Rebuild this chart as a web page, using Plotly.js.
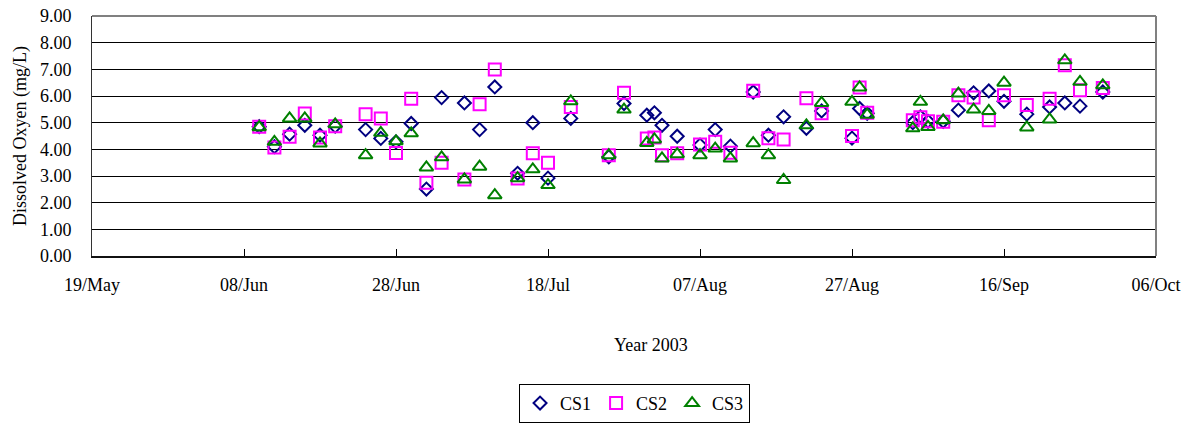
<!DOCTYPE html>
<html>
<head>
<meta charset="utf-8">
<script src="https://cdn.plot.ly/plotly-3.0.1.min.js"></script>
<style>html,body{margin:0;padding:0;background:#fff;}#chart{width:1195px;height:425px;}</style>
</head>
<body>
<div id="chart"></div>
<script>
const dates = ['2003-06-10','2003-06-12','2003-06-14','2003-06-16','2003-06-18','2003-06-20','2003-06-24','2003-06-26','2003-06-28','2003-06-30','2003-07-02','2003-07-04','2003-07-07','2003-07-09','2003-07-11','2003-07-14','2003-07-16','2003-07-18','2003-07-21','2003-07-26','2003-07-28','2003-07-31','2003-08-01','2003-08-02','2003-08-04','2003-08-07','2003-08-09','2003-08-11','2003-08-14','2003-08-16','2003-08-18','2003-08-21','2003-08-23','2003-08-27','2003-08-28','2003-08-29','2003-09-04','2003-09-05','2003-09-06','2003-09-08','2003-09-10','2003-09-12','2003-09-14','2003-09-16','2003-09-19','2003-09-22','2003-09-24','2003-09-26','2003-09-29'];
const cs1 = [4.85,4.1,4.57,4.9,4.53,4.87,4.74,4.41,4.28,4.97,2.51,5.94,5.74,4.74,6.34,3.1,5.0,2.92,5.16,3.72,5.72,5.28,5.37,4.9,4.49,4.16,4.74,4.12,6.15,4.53,5.22,4.79,5.44,4.42,5.53,5.35,5.0,5.22,5.05,5.05,5.47,6.12,6.19,5.8,5.32,5.59,5.74,5.62,6.15];
const cs2 = [4.85,4.07,4.47,5.34,4.44,4.87,5.32,5.16,3.86,5.9,2.75,3.5,2.87,5.69,6.99,2.91,3.85,3.5,5.59,3.78,6.12,4.41,4.44,3.78,3.85,4.18,4.28,3.87,6.2,4.42,4.37,5.92,5.35,4.5,6.32,5.37,5.09,5.2,5.05,5.03,6.03,5.94,5.09,6.03,5.66,5.9,7.15,6.22,6.3];
const cs3 = [4.83,4.28,5.16,5.16,4.22,4.94,3.78,4.62,4.3,4.6,3.32,3.7,2.87,3.35,2.28,2.92,3.25,2.66,5.8,3.78,5.49,4.24,4.37,3.66,3.82,3.78,4.03,3.66,4.23,3.78,2.85,4.9,5.74,5.78,6.32,5.3,4.79,5.78,4.84,5.09,6.09,5.49,5.44,6.5,4.82,5.12,7.34,6.53,6.4];
const seriesNames = ['CS1','CS2','CS3'];
const xTickVals = ['2003-05-19','2003-06-08','2003-06-28','2003-07-18','2003-08-07','2003-08-27','2003-09-16','2003-10-06'];
const xTickText = ['19/May','08/Jun','28/Jun','18/Jul','07/Aug','27/Aug','16/Sep','06/Oct'];
const yTickVals = [0,1,2,3,4,5,6,7,8,9];
const yTickText = ['0.00','1.00','2.00','3.00','4.00','5.00','6.00','7.00','8.00','9.00'];

const FONT = 'Liberation Serif, Times New Roman, serif';

const traces = [
  {x: dates, y: cs1, name: seriesNames[0], type:'scatter', mode:'markers',
   marker:{symbol:'diamond-open', size:10, color:'#000080', line:{width:2, color:'#000080'}}},
  {x: dates, y: cs2, name: seriesNames[1], type:'scatter', mode:'markers',
   marker:{symbol:'square-open', size:12, color:'#FF00FF', line:{width:2, color:'#FF00FF'}}},
  {x: dates, y: cs3, name: seriesNames[2], type:'scatter', mode:'markers',
   marker:{symbol:'triangle-up-open', size:12, color:'#008000', line:{width:2, color:'#008000'}}}
];

const layout = {
  width:1195, height:425,
  margin:{l:92, r:39, t:16, b:169, autoexpand:false},
  paper_bgcolor:'#fff', plot_bgcolor:'#fff',
  font:{family:FONT, size:18, color:'#000'},
  showlegend:true,
  legend:{orientation:'h', xref:'container', yref:'container', x:0.531, xanchor:'center', y:0.005, yanchor:'bottom',
          bordercolor:'#000', borderwidth:1, font:{family:FONT, size:18, color:'#000'},
          itemwidth:30, tracegroupgap:0},
  xaxis:{type:'date', range:['2003-05-19','2003-10-06'],
         tickmode:'array', tickvals:xTickVals, ticktext:xTickText,
         ticks:'inside', ticklen:7, tickcolor:'#000', tickwidth:1,
         showline:true, linecolor:'#111', linewidth:2,
         showgrid:false, zeroline:false,
         tickfont:{family:FONT, size:18, color:'#000'}, ticklabelstandoff:11},
  yaxis:{range:[0,9], tickmode:'array', tickvals:yTickVals, ticktext:yTickText,
         ticks:'', showline:true, linecolor:'#333', linewidth:1,
         showgrid:true, gridcolor:'#000', gridwidth:1, zeroline:false,
         tickfont:{family:FONT, size:18, color:'#000'}, ticklabelstandoff:16},
  shapes:[
    {type:'line', xref:'paper', yref:'paper', x0:0, x1:1, y0:1, y1:1, line:{color:'#808080', width:2}, layer:'above'},
    {type:'line', xref:'paper', yref:'paper', x0:1, x1:1, y0:0, y1:1, line:{color:'#808080', width:2}, layer:'above'}
  ],
  annotations:[
    {text:'Year 2003', xref:'paper', yref:'paper', x:0.525, y:-0.371, xanchor:'center', yanchor:'middle',
     showarrow:false, font:{family:FONT, size:18, color:'#000'}},
    {text:'Dissolved Oxyen (mg/L)', xref:'paper', yref:'paper', x:-0.0677, y:0.5, xanchor:'center', yanchor:'middle',
     textangle:-90, showarrow:false, font:{family:FONT, size:18, color:'#000'}}
  ]
};

Plotly.newPlot('chart', traces, layout, {displayModeBar:false, staticPlot:true});
</script>
</body>
</html>
